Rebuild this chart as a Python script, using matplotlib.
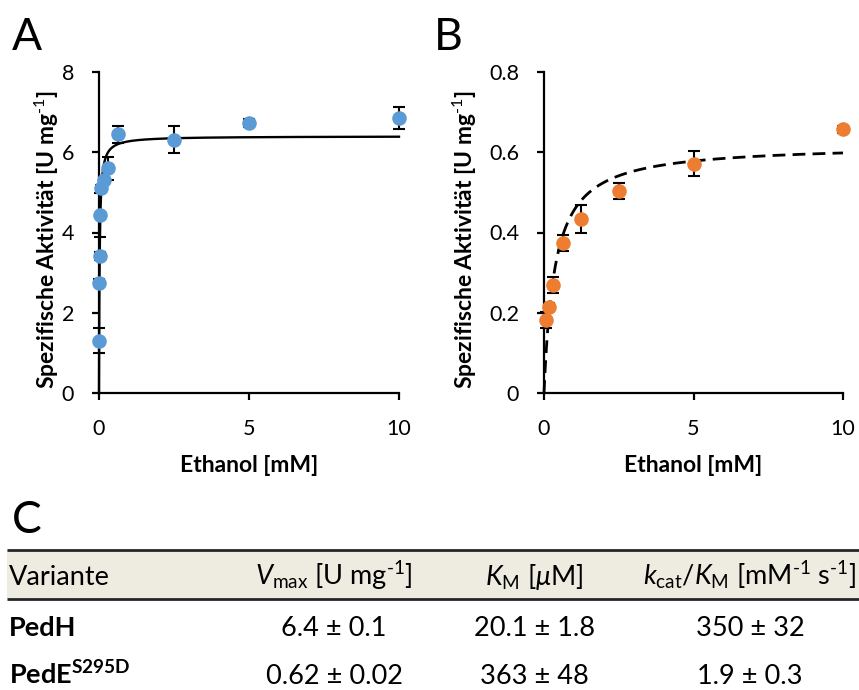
import numpy as np
import matplotlib
matplotlib.use("Agg")
import matplotlib.pyplot as plt
from matplotlib.patches import Rectangle

plt.rcParams['font.family'] = ['Lato', 'DejaVu Sans']
plt.rcParams['mathtext.fontset'] = 'custom'
plt.rcParams['mathtext.rm'] = 'Lato'
plt.rcParams['mathtext.it'] = 'Lato:italic'
plt.rcParams['mathtext.bf'] = 'Lato:bold'

W, H, DPI = 859, 690, 100

# ---- Panel A: PedH, specific activity vs. ethanol ----
conc_a = [0.005, 0.01, 0.02, 0.04, 0.08, 0.16, 0.31, 0.625, 2.5, 5, 10]
act_a = [1.30, 2.75, 3.41, 4.44, 5.10, 5.31, 5.60, 6.45, 6.31, 6.74, 6.85]
err_a = [0.31, 0.08, 0.10, 0.54, 0.08, 0.08, 0.28, 0.21, 0.34, 0.10, 0.27]

# ---- Panel B: PedE S295D ----
conc_b = [0.08, 0.16, 0.31, 0.625, 1.25, 2.5, 5, 10]
act_b = [0.182, 0.215, 0.269, 0.375, 0.433, 0.504, 0.571, 0.657]
err_b = [0.021, 0.010, 0.019, 0.020, 0.035, 0.020, 0.031, 0.008]

# ---- Panel C: kinetic parameters ----
variants = ['PedH', r'PedE$^{\mathbf{S295D}}$']
vmax = [6.4, 0.62]          # U mg-1
km_uM = [20.1, 363]         # µM
vmax_txt = ['6.4 ± 0.1', '0.62 ± 0.02']
km_txt = ['20.1 ± 1.8', '363 ± 48']
eff_txt = ['350 ± 32', '1.9 ± 0.3']
headers = ['Variante',
           r'$V_\mathrm{max}$ [U mg$^\text{-1}$]',
           r'$K_\mathrm{M}$ [$\mu$M]',
           r'$k_\mathrm{cat}/K_\mathrm{M}$ [mM$^\text{-1}$ s$^\text{-1}$]']

BLUE = '#5B9BD5'
ORANGE = '#ED7D31'
HEADER_BG = '#EEECE1'


def fx(px):
    return px / W


def fy(py):
    return 1 - py / H


fig = plt.figure(figsize=(W / DPI, H / DPI), dpi=DPI)
fig.patch.set_facecolor('white')


def style_axes(ax, xticks, yticks, ylim, yfmt):
    ax.set_xlim(0, 10)
    ax.set_ylim(*ylim)
    ax.set_xticks(xticks)
    ax.set_yticks(yticks)
    ax.set_yticklabels([yfmt(v) for v in yticks])
    for s in ('top', 'right'):
        ax.spines[s].set_visible(False)
    for s in ('left', 'bottom'):
        ax.spines[s].set_linewidth(1.6)
        ax.spines[s].set_color('black')
    ax.tick_params(axis='both', direction='out', length=5, width=1.6,
                   labelsize=15.5, colors='black')
    ax.tick_params(axis='y', pad=13)
    ax.tick_params(axis='x', pad=14)
    ax.patch.set_visible(False)


def mm_curve(vm, km):
    x = np.concatenate([np.linspace(0, 0.2, 500), np.linspace(0.2, 10, 500)])
    return x, vm * x / (km + x)


# Panel A
axA = fig.add_axes([fx(99), fy(393), fx(399) - fx(99), fy(72) - fy(393)])
style_axes(axA, [0, 5, 10], [0, 2, 4, 6, 8], (0, 8), lambda v: f'{v:g}')
xa, ya = mm_curve(vmax[0], km_uM[0] / 1000)
axA.plot(xa, ya, color='black', lw=1.7, zorder=2, clip_on=False)
axA.errorbar(conc_a, act_a, yerr=err_a, fmt='none', ecolor='black',
             elinewidth=1.5, capsize=4.5, capthick=1.5, zorder=1, clip_on=False)
axA.plot(conc_a, act_a, 'o', ms=10.5, color=BLUE, mec='none', zorder=3,
         clip_on=False)

# Panel B
axB = fig.add_axes([fx(544), fy(393), fx(843) - fx(544), fy(72) - fy(393)])
style_axes(axB, [0, 5, 10], [0, 0.2, 0.4, 0.6, 0.8], (0, 0.8),
           lambda v: '0' if v == 0 else f'{v:.1f}')
xb, yb = mm_curve(vmax[1], km_uM[1] / 1000)
axB.plot(xb, yb, color='black', lw=2.0, dashes=(4.6, 2.6), zorder=2,
         clip_on=False)
axB.errorbar(conc_b, act_b, yerr=err_b, fmt='none', ecolor='black',
             elinewidth=1.5, capsize=4.5, capthick=1.5, zorder=1, clip_on=False)
axB.plot(conc_b, act_b, 'o', ms=10.5, color=ORANGE, mec='none', zorder=3,
         clip_on=False)

# Axis titles
ylab = r'Spezifische Aktivität [U mg$^{\mathbf{\text{-1}}}$]'
fig.text(fx(249), fy(466), 'Ethanol [mM]', ha='center', va='center',
         fontsize=16.5, fontweight='bold')
fig.text(fx(693), fy(466), 'Ethanol [mM]', ha='center', va='center',
         fontsize=16.5, fontweight='bold')
fig.text(fx(47), fy(240), ylab, ha='center', va='center', rotation=90,
         fontsize=16.5, fontweight='bold')
fig.text(fx(465), fy(240), ylab, ha='center', va='center', rotation=90,
         fontsize=16.5, fontweight='bold')

# Panel letters
fig.text(fx(12), fy(50), 'A', ha='left', va='baseline', fontsize=32)
fig.text(fx(434), fy(50), 'B', ha='left', va='baseline', fontsize=32)
fig.text(fx(12), fy(533), 'C', ha='left', va='baseline', fontsize=32)

# Table
tab = fig.add_axes([0, 0, 1, 1])
tab.set_xlim(0, W)
tab.set_ylim(H, 0)
tab.set_axis_off()
tab.patch.set_visible(False)
tab.add_patch(Rectangle((7, 550), W - 7, 49, facecolor=HEADER_BG,
                        edgecolor='none', zorder=0))
tab.plot([7, W], [550, 550], color='#262626', lw=2.0, solid_capstyle='butt')
tab.plot([7, W], [599, 599], color='#262626', lw=2.0, solid_capstyle='butt')

col_x = [9, 334, 534, 750]
header_base = 585
row_base = [636, 684]
TS = 19.5
tab.text(col_x[0], header_base, headers[0], ha='left', va='baseline',
         fontsize=TS)
for cx, h in zip(col_x[1:], headers[1:]):
    tab.text(cx, header_base, h, ha='center', va='baseline', fontsize=TS)

for i, yb_ in enumerate(row_base):
    tab.text(col_x[0], yb_, variants[i], ha='left', va='baseline',
             fontsize=TS, fontweight='bold')
    for cx, vals in zip(col_x[1:], (vmax_txt, km_txt, eff_txt)):
        tab.text(cx, yb_, vals[i], ha='center', va='baseline', fontsize=TS)

fig.savefig('out.png', dpi=DPI)
